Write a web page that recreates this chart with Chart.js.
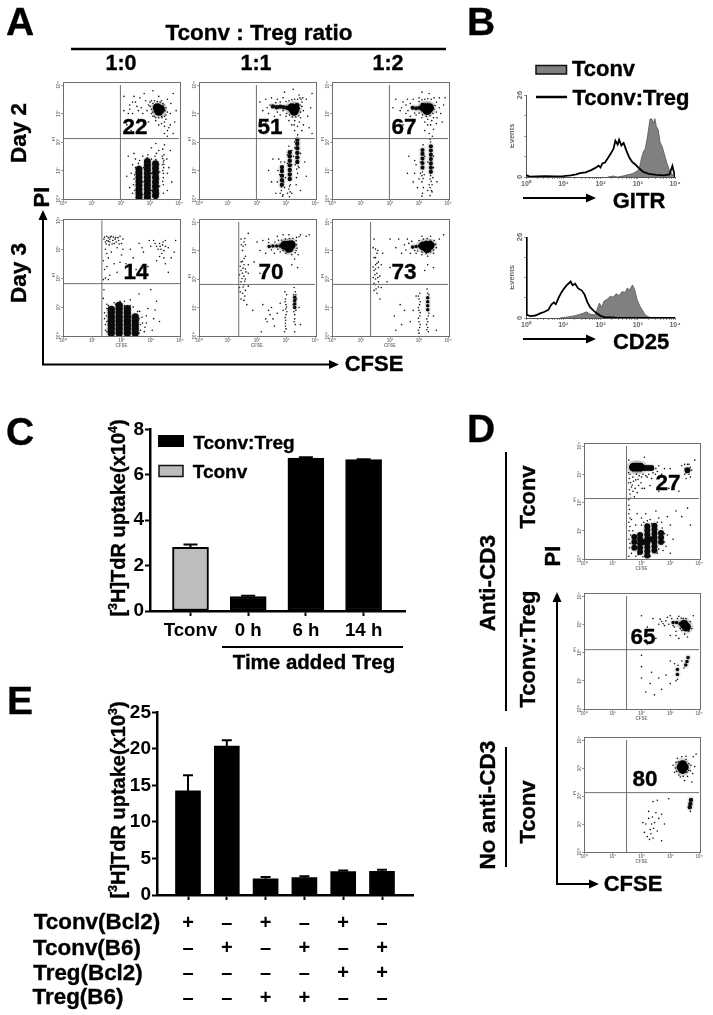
<!DOCTYPE html>
<html><head><meta charset="utf-8">
<script src="https://cdn.jsdelivr.net/npm/chart.js@4"></script>
<style>
html,body{margin:0;padding:0;background:#fff;}
#page{position:relative;width:713px;height:1015px;overflow:hidden;background:#fff;font-family:"Liberation Sans",Arial,sans-serif;font-weight:bold;color:#000;}
canvas{position:absolute;}
.t{position:absolute;white-space:nowrap;line-height:1;transform:translate(-50%,-50%);-webkit-text-stroke:.35px #000;}
.t sup{font-size:.62em;line-height:0;}
svg{position:absolute;left:0;top:0;}
</style></head><body><div id="page"></div>
<script>
// ---------- DATA (flow plots: log10 units, 0..4) ----------
const flowTicks=[0,1,2,3,4];
const flowTickLabels=['10⁰','10¹','10²','10³','10⁴'];

const a1Blob=[[3.25,3.2],[3.36,3.15],[3.3,3.08]];
const a1Core=[[2.62,.06],[2.62,.2],[2.62,.34],[2.62,.48],[2.62,.62],[2.62,.76],[2.62,.9],[2.62,1.04],
[2.91,.06],[2.91,.2],[2.91,.34],[2.91,.48],[2.91,.62],[2.91,.76],[2.91,.9],[2.91,1.04],[2.91,1.18],[2.91,1.32],
[3.19,.12],[3.19,.28],[3.19,.44],[3.19,.6],[3.19,.76],[3.19,.92],[3.19,1.08],[3.19,1.24]];
const a1Sparse=[[2.1,3.6],[2.3,3.3],[2.4,3],[2.5,3.4],[2.7,3.2],[2.6,2.8],[2.8,3.7],[2.9,3.1],[2.95,2.7],[3,3.4],[3.05,3],[3.1,3.35],[3.15,2.9],[3.4,2.9],[3.5,2.7],[3.55,3.2],[3.6,3.5],[3.7,3],[3.65,2.5],[3.8,3.7],[3.3,3.6],[3.1,3.8],[2.2,2.6],[2.35,2.4],[3.8,2.3],[3.5,2.3],[3.3,2.6],[3.6,2.2],[2.1,3.1],[3.45,3.35],[3.2,2.85],[3.4,3.45],[3.55,2.95],[3,3.25],[2.75,3],[2.85,3.45],[2.45,3.6],[2.65,3.55],[2.25,3.0],[3.72,3.35],[3.9,3.1],[3.85,2.7],
[2.95,3.3],[3.05,3.15],[3.1,3.05],[3.12,3.25],[3.05,3.45],[3.15,3.45],[3.25,3.42],[3.35,3.4],[3.48,3.3],[3.52,3.1],[3.5,2.9],[3.42,2.85],[3.3,2.85],[3.2,2.75],[3.1,2.9],[3.6,3.05],[3.55,2.8],[2.6,3.1],[2.55,3.25],[2.4,3.4],[2.3,3.15],[3.5,2.55],[3.4,2.65],[3.6,2.4],[3.7,2.6],
[2.3,.4],[2.35,.9],[2.4,.2],[2.4,1.2],[2.45,.7],[2.5,1.4],[2.45,1.6],[2.75,.15],[2.75,.6],[2.78,1.1],[2.75,1.5],[3.05,.3],[3.05,.9],[3.05,1.4],[3.05,1.8],[3.3,.2],[3.3,.7],[3.3,1.2],[3.3,1.7],[3.6,.3],[3.6,.9],[3.58,1.4],[3.7,1.7],[3.75,.6],[2.2,.8],[2.25,1.5],[3.5,1.9],[3.2,1.95],[3.46,.2],[3.46,.5],[3.46,.75],[3.48,1.55],[3.44,1.75],[2.48,.3],[2.52,.95],[2.55,.55],[3.65,1.1],
[3.44,1.0],[3.47,1.1],[3.43,1.2],[3.46,1.3],[3.44,1.42],[3.48,1.36],[3.42,1.5],[3.46,.9],[3.44,.62],[3.48,1.22],[2.9,1.45],[2.93,1.55],[3.2,1.38],[3.17,1.5],[3.22,1.6],[2.62,1.15],[2.6,1.25],[2.64,1.35],[2.43,.5],[2.47,.85],[2.5,1.1],[3.33,.45],[3.33,.95]];

const a2Blob=[[3.2,3.2],[3.32,3.18],[3.28,3.08]];
const a2Core=[[2.55,3.25],[2.68,3.22],[2.8,3.24],[2.92,3.22],[3.04,3.2],[3.38,3.3],
[2.86,.5],[2.86,.66],[2.86,.82],[2.86,.98],[2.86,1.12],[3.13,.7],[3.13,.86],[3.13,1.02],[3.13,1.18],[3.13,1.34],[3.13,1.5],[3.13,1.64],[3.39,1.3],[3.39,1.46],[3.39,1.62],[3.39,1.78],[3.39,1.94],[3.39,2.08]];
const a2Sparse=[[2.1,3.4],[2.2,3.1],[2.3,3.5],[2.4,3.0],[2.5,3.55],[2.6,2.9],[2.7,3.5],[2.8,2.95],[2.9,3.55],[3.0,2.9],[3.1,2.75],[3.2,2.6],[3.3,2.75],[3.4,2.55],[3.5,2.85],[3.55,3.4],[3.6,3.1],[3.7,3.5],[3.75,2.9],[3.85,3.2],[3.9,3.7],[3.45,3.65],[3.25,3.85],[2.95,3.75],[3.55,2.4],[3.4,2.25],[3.6,2.6],[3.3,2.4],[3.8,2.5],[3.9,2.3],[2.3,2.7],[2.15,2.4],[3.5,3.05],[3.48,3.3],[3.52,3.5],
[3.0,3.42],[3.1,3.45],[3.2,3.48],[3.3,3.5],[3.4,3.5],[3.48,3.55],[3.58,3.55],[2.9,3.1],[3.02,3.0],[3.12,2.95],[3.22,2.88],[3.34,2.88],[3.44,2.92],[3.55,3.25],[2.7,3.05],[2.45,3.3],[2.35,3.2],[2.65,3.38],[2.8,3.4],[3.46,2.7],[3.28,2.6],
[2.65,.2],[2.7,.6],[2.72,1],[2.75,1.4],[2.8,.2],[2.9,.15],[2.95,.4],[2.98,.75],[2.95,1.3],[2.82,1.3],[3.05,.2],[3.1,.35],[3.15,.5],[3.2,.2],[3.05,1.25],[3.2,1.2],[3.1,1.85],[3.25,1.5],[3.3,1.8],[3.45,1.1],[3.4,.9],[3.35,.5],[3.5,.3],[3.5,1.6],[3.32,1.2],[2.5,.6],[2.4,1.0],[2.55,1.4],[3.7,.8],[3.65,1.3],
[2.84,.3],[2.88,.1],[2.84,.42],[3.12,.45],[3.14,.25],[3.12,.08],[3.37,1.05],[3.42,1.15],[3.36,.75],[3.42,1.35],[2.78,.85],[2.92,.6],[3.05,1.55],[3.2,1.7],[3.3,2.0]];

const a3Blob=[[3.18,3.2],[3.28,3.2],[3.36,3.2],[3.28,3.1]];
const a3Core=[[2.78,3.2],[2.9,3.18],[3.02,3.2],[3.12,3.3],
[3.12,1.1],[3.12,1.26],[3.12,1.42],[3.12,1.58],[3.12,1.72],[3.41,.95],[3.41,1.1],[3.41,1.25],[3.41,1.4],[3.41,1.55],[3.41,1.7],[3.41,1.85]];
const a3Sparse=[[2.1,3.2],[2.2,3.5],[2.35,3.1],[2.45,3.4],[2.55,3.0],[2.6,3.5],[2.7,2.9],[2.8,3.5],[2.9,2.95],[3.0,3.55],[3.1,2.85],[3.2,2.7],[3.3,2.8],[3.4,2.6],[3.5,2.85],[3.6,3.05],[3.6,3.4],[3.7,3.55],[3.75,3.0],[3.85,3.3],[3.9,3.55],[3.35,3.7],[3.1,3.75],[3.5,2.45],[3.35,2.3],[3.6,2.65],[3.2,2.4],[3.8,2.7],[2.25,2.75],[2.45,2.6],[3.46,2.2],[3.38,2.1],
[3.0,3.42],[3.1,3.48],[3.2,3.5],[3.3,3.52],[3.42,3.5],[3.52,3.55],[3.52,3.15],[3.55,3.28],[3.48,3.0],[3.38,2.92],[3.25,2.9],[3.12,2.95],[3.0,3.02],[2.85,3.02],[2.7,3.35],[2.55,3.3],[2.62,3.1],[2.4,3.2],[3.7,3.2],[3.62,2.85],[3.44,2.75],[3.3,2.6],
[2.8,.6],[2.85,.9],[2.9,1.2],[2.85,1.35],[2.95,.4],[3.0,.7],[3.05,.9],[3.1,.6],[3.15,.4],[3.18,.85],[3.05,1.3],[3.2,1.5],[3.3,.3],[3.35,.5],[3.38,.7],[3.45,.5],[3.48,.75],[3.5,1.1],[3.5,1.5],[3.45,.25],[2.6,.9],[2.65,1.5],[3.3,1.3],[3.62,.6],
[3.12,.95],[3.1,.82],[3.14,.72],[3.4,.82],[3.42,.62],[3.38,.4],[3.43,.3],[3.4,2.0],[3.14,1.9],[3.38,.12],[3.12,.2],[3.1,.1]];

const b1Blob=[];
const b1Core=[[1.65,.1],[1.65,.24],[1.65,.38],[1.65,.52],[1.65,.66],[1.65,.8],[1.65,.92],[1.92,.1],[1.92,.24],[1.92,.38],[1.92,.52],[1.92,.66],[1.92,.8],[1.92,.94],[1.92,1.06],[2.2,.1],[2.2,.24],[2.2,.38],[2.2,.52],[2.2,.66],[2.2,.8],[2.2,.94],[2.47,.1],[2.47,.24],[2.47,.38],[2.47,.52],[2.47,.66]];
const b1Sparse=[[1.4,3.35],[1.5,3.3],[1.55,3.4],[1.6,3.25],[1.65,3.45],[1.7,3.3],[1.75,3.2],[1.8,3.4],[1.9,3.3],[1.95,3.45],[2.0,3.2],[1.6,3.35],[1.45,3.25],[1.85,3.05],[2.05,3.35],[1.45,3],[1.55,2.7],[1.5,2.4],[1.6,2.1],[1.45,2],[1.65,2.9],[1.75,2.5],[1.85,2.2],[2,2.8],[2.15,2.5],[2.3,3],[2.4,2.7],[2.5,2.3],[2.6,3.2],[2.75,2.9],[2.9,2.4],[3,3.1],[3.1,3.3],[3.2,3.1],[3.3,3.2],[3.35,3.0],[3.4,3.15],[3.45,2.95],[3.5,3.3],[3.6,3.05],[3.7,2.7],[3.5,2.5],[3.6,2.2],[3.2,2.6],[3.85,3.3],[3.8,2.9],[1.4,1.6],[1.38,1.3],[1.5,1.1],[1.42,.8],[1.45,.4],[1.5,.15],[2.6,.1],[2.65,.4],[2.7,.65],[2.62,.85],[2.8,.3],[2.85,.7],[2.9,.95],[3.05,.2],[3.1,.6],[3.15,.9],[3.2,1.2],[2.4,1],[2.3,1.25],[2.1,1.2],[1.75,1.15],[3.3,.5],[2.6,1.45],[3.0,1.6],
[1.42,3.42],[1.5,3.45],[1.58,3.15],[1.68,3.18],[1.78,3.35],[1.82,3.25],[1.48,3.18],[1.55,3.28],[1.62,3.42],[1.72,3.42],[1.92,3.18],[1.88,3.4],[1.38,2.6],[1.42,2.3],[1.5,2.85],[1.38,1.95],[1.55,1.95],[3.25,3.0],[3.32,3.1],[3.42,3.25],[3.5,3.1],[3.38,2.85],[3.3,2.75],[3.45,2.7],[3.15,3.2],[2.05,3.0],[1.95,2.55],[2.7,3.05],[2.95,3.3],
[1.42,.6],[1.45,.2],[1.48,.7],[1.5,.95],[1.5,.5],[1.55,1.05],[1.8,1.1],[1.95,1.2],[2.1,1.05],[2.3,1.05],[2.55,.85],[2.6,.6],[2.65,.2],[2.72,.45],[2.78,.15],[2.85,.45]];

const b2Blob=[[2.95,3.18],[3.08,3.18],[3.18,3.2],[3.1,3.08]];
const b2Core=[[2.42,3.14],[2.55,3.16],[2.68,3.16],[2.8,3.16],[3.3,1.0],[3.3,1.12],[3.3,1.24],[3.3,1.36]];
const b2Sparse=[[1.45,3.4],[1.55,3.3],[1.6,3.2],[1.5,3.0],[1.6,2.8],[1.45,2.6],[1.55,2.5],[1.6,2.35],[1.45,2.3],[1.7,2.2],[1.4,2.15],[1.6,2.0],[1.45,1.9],[1.55,1.8],[1.4,1.7],[1.6,1.6],[1.5,1.5],[1.45,1.3],[1.7,1.75],[1.7,2.5],[1.55,1.25],[1.65,1.1],[2,3.3],[2.1,3.0],[2.2,3.35],[2.3,2.9],[2.4,3.4],[2.6,2.9],[2.8,2.95],[3,2.9],[3.2,2.85],[3.35,3],[3.35,3.35],[3.3,2.7],[3.4,2.4],[3.2,2.5],[3.5,3.55],[3.7,3.5],[3.8,3.55],[3.1,3.55],[2.9,3.55],[2.7,3.5],[1.7,3.6],[1.9,2.6],[2.1,2.2],
[1.5,2.2],[1.55,2.1],[1.48,2.02],[1.58,1.92],[1.42,2.45],[1.52,2.38],[1.62,2.25],[1.52,1.72],[1.42,1.55],[1.58,1.4],[1.5,2.62],[1.56,2.72],[1.46,3.2],[1.52,3.15],[1.58,3.42],[2.4,3.28],[2.5,3.02],[2.62,3.3],[2.72,3.04],[2.74,3.36],[2.85,3.36],[2.98,3.4],[3.12,3.42],[3.24,3.42],[3.36,3.2],[3.38,3.08],[3.36,3.46],[3.45,3.48],[3.32,2.92],[3.2,2.98],[3.05,2.95],[2.9,3.0],[3.42,2.85],
[2.3,.6],[2.4,.9],[2.5,1],[2.55,.6],[2.35,.5],[2.7,.8],[2.6,.35],[2.8,1.15],[2.9,.9],[2.95,.15],[2.98,.35],[2.99,.55],[3,.75],[2.99,.95],[3,1.1],[2.98,1.3],[3.02,1.45],[2.96,1.55],[3.3,.75],[3.3,.6],[3.32,1.55],[3.28,1.7],[3.32,.4],[3.3,.15],[3.5,.4],[3.45,1.0],[2.2,1.1],[1.85,.9],[2.15,.15],
[3.27,.85],[3.34,.9],[3.25,1.1],[3.36,1.3],[3.26,1.45],[3.34,1.45],[3,.25],[2.97,.65],[3.03,.85],[2.97,1.2],[3.02,1.02],[2.98,.45],[3.28,.5],[2.45,.75]];

const b3Blob=[[3.14,3.16],[3.26,3.18],[3.38,3.18],[3.28,3.07]];
const b3Core=[[2.78,3.12],[2.9,3.14],[3.02,3.16],[3.48,3.2],[3.3,.92],[3.3,1.06],[3.3,1.2],[3.3,1.34]];
const b3Sparse=[[1.45,3.4],[1.5,3.05],[1.55,2.9],[1.45,2.75],[1.6,2.6],[1.5,2.5],[1.6,2.4],[1.45,2.3],[1.55,2.2],[1.65,2.1],[1.5,2.0],[1.6,1.9],[1.5,1.8],[1.45,1.6],[1.55,1.5],[1.7,1.7],[1.7,2.5],[1.65,1.3],[1.75,2.9],[2,3.4],[2.2,3.1],[2.3,3.4],[2.4,2.9],[2.5,3.2],[2.6,3.4],[2.7,2.9],[2.9,2.9],[3.1,2.85],[3.3,2.8],[3.5,2.9],[3.6,3.1],[3.7,3.4],[3.85,3.55],[3.4,3.5],[3.1,3.5],[3.3,2.5],[3.5,2.4],[3.2,2.3],[2.0,2.4],[1.9,1.9],
[1.5,2.35],[1.42,2.42],[1.58,2.05],[1.48,2.15],[1.55,2.55],[1.42,2.05],[1.6,1.72],[1.45,1.85],[1.52,1.65],[1.5,2.75],[1.58,3.0],[1.42,3.1],[2.55,3.02],[2.65,3.25],[2.75,3.32],[2.85,3.0],[3.0,3.35],[3.15,3.4],[3.28,3.42],[3.4,3.36],[3.52,3.35],[3.58,3.22],[3.5,3.02],[3.4,2.95],[3.25,2.9],[3.1,2.95],[2.95,2.98],
[2.7,.5],[2.5,.9],[2.35,1.1],[2.4,.4],[2.8,.9],[2.9,1.4],[3,.1],[3.02,.3],[3,.5],[3.03,.7],[3,.9],[3.02,1.1],[3,1.3],[3.03,1.5],[3.3,.3],[3.3,.5],[3.32,.7],[3.3,1.5],[3.28,1.65],[3.32,.15],[3.5,.7],[2.2,.2],[2.15,.7],[3.6,.2],
[2.98,.2],[3.04,.4],[2.98,.62],[3.04,.82],[2.98,1],[3.04,1.2],[2.98,1.4],[3.27,.6],[3.34,.8],[3.26,.4],[3.34,1.45],[3.27,.22]];

const d1Blob=[[1.72,3.25],[1.84,3.25],[1.96,3.25]];
const d1Core=[[2.1,3.22],[2.22,3.22],[2.34,3.22],[3.6,3.14],
[1.95,.25],[1.95,.4],[1.95,.55],[1.95,.7],[1.95,.85],[2.2,.12],[2.2,.27],[2.2,.42],[2.2,.57],[2.2,.72],[2.2,.87],[2.2,1.02],[2.2,1.16],[2.45,.3],[2.45,.45],[2.45,.6],[2.45,.75],[2.45,.9],[2.45,1.05],[2.45,1.18],[2.68,.6],[2.68,.76],[2.68,.92],[1.75,.4],[1.75,.6],[1.75,.78],[2.08,.6],[2.32,.7]];
const d1Sparse=[[1.56,3.5],[1.6,3],[1.7,2.9],[1.55,2.7],[1.65,2.55],[1.8,2.8],[1.9,2.6],[1.6,2.3],[1.75,2.2],[2,2.9],[2.1,2.5],[2.2,2.9],[2.3,2.6],[2.4,3.05],[2.5,3.2],[2.6,3.3],[2.7,3],[2.8,3.2],[3,3.2],[2.95,2.5],[2.6,2.4],[3.4,3.3],[3.5,3],[3.5,3.35],[3.65,3.35],[3.7,2.9],[3.55,2.85],[3.75,3.15],[3.2,2.9],[3.3,2.4],[3.85,3.5],[2.1,3.6],[1.56,2.1],[1.56,1.9],[1.56,1.6],[1.56,1.3],[1.57,1],[1.56,.7],[1.58,.4],[1.56,.1],[1.65,1.4],[1.7,1],[1.65,.2],[1.8,1.2],[1.85,1.6],[2,1.45],[2.15,1.6],[2.3,1.4],[2.5,1.7],[2.6,1.45],[2.7,1.3],[2.8,.6],[2.9,.85],[3,1.2],[2.9,1.5],[3.2,1.7],[3.1,.7],[3.4,1.5],[3.6,1.8],[3.7,1.2],[2.05,.08],[2.3,.1],[2.55,.2],[2.75,.3],[1.8,.1],[3,.2],
[1.55,3.05],[1.58,2.85],[1.62,2.7],[1.68,2.62],[1.72,2.75],[1.78,2.5],[1.82,3.0],[1.88,2.82],[1.92,2.95],[1.98,2.7],[2.02,2.5],[1.7,2.4],[1.62,2.15],[1.85,2.35],[1.58,2.45],[2.05,3.0],[2.15,2.95],[2.25,3.0],[2.35,2.85],[2.48,3.0],[2.55,3.1],[3.52,3.2],[3.6,3.35],[3.65,3.0],[3.7,3.25],[3.55,3.05],[1.58,1.75],[1.6,1.45],[1.6,1.15],[1.62,.85],[1.6,.55],[2.0,1.2],[2.08,1.3],[2.2,1.35],[2.35,1.25],[2.55,1.3],[2.72,1.1],[2.8,.9],[2.85,.45],[2.6,.35],[1.88,.15],[2.12,.1]];

const d2Blob=[[3.48,3],[3.56,2.9]];
const d2Core=[[3.1,3.06],[3.22,3.06],[3.34,3.02],[3.58,1.68],[3.62,1.82],[3.54,1.56],[3.25,1.4],[3.25,1.22]];
const d2Sparse=[[2.6,3],[2.7,3.1],[2.75,3.02],[2.85,3.12],[2.95,3],[3.05,3.2],[3.15,2.9],[3.25,3.2],[3.35,2.85],[3.2,2.75],[3.45,3.2],[3.7,3.1],[3.75,2.85],[3.8,3.3],[2.4,3.2],[2.2,2.9],[2.0,3.3],[3.6,2.55],[3.3,2.5],[3,2.6],[2.5,2.5],[2,1.9],[2,1.5],[2,1.1],[2.35,1.3],[2.3,.9],[2.6,1.1],[2.7,.7],[2.85,1.2],[3,.9],[3.2,1.0],[3.25,1.05],[3.27,1.55],[3.48,1.45],[3.4,1.7],[3.15,1.6],[2.45,.5],[2.15,.6],[3,1.7],[2.2,2.3],
[2.65,3.18],[2.8,2.95],[2.9,3.25],[3,3.3],[3.1,2.95],[3.3,3.28],[3.4,2.78],[3.55,3.2],[3.65,2.75],[3.68,2.95],[3.5,2.65],[3.38,3.22],[3.2,2.6]];

const d3Blob=[[3.38,3.03],[3.48,3.03],[3.43,2.95],[3.43,3.12]];
const d3Core=[[3.7,1.72],[3.72,1.86],[3.68,1.6]];
const d3Sparse=[[3.1,3.1],[3.15,2.85],[3.2,3.2],[3.25,3.35],[3.4,3.4],[3.55,3.3],[3.65,3.15],[3.7,2.9],[3.6,2.7],[3.45,2.7],[3.3,2.75],[3.8,3.4],[3.85,3.05],[3.9,3.5],[3.5,2.55],[3.75,2.5],[3.7,1.45],[2.1,.7],[2.15,1],[2.2,.55],[2.25,1.2],[2.3,.8],[2.33,.65],[2.35,1],[2.38,1.25],[2.4,.5],[2.42,.85],[2.28,.45],[2.45,1.05],[2.5,1.4],[2.55,.75],[2.6,1.2],[2.7,1.35],[2.8,1],[2.05,1.05],[2.4,1.8],[2.55,1.85],[2.95,1.9],[2.7,.4],[2.25,1.45],
[3.18,3.0],[3.22,2.88],[3.28,3.22],[3.6,3.1],[3.64,2.92],[3.58,2.85],[3.35,2.68],[3.55,3.42],[3.72,3.1],[3.78,2.8]];

// gates, log10 units
const gatesA1=[1.98,2.12], gatesA2=[1.98,2.12], gatesA3=[1.98,2.12];
const gatesB1=[1.33,1.81], gatesB2=[1.37,1.81], gatesB3=[1.33,1.81];
const gatesD1=[1.48,2.14], gatesD2=[1.48,2.10], gatesD3=[1.48,2.12];

// Histograms (log10 intensity, events)
const gitrTconv=[[2.2,0],[2.35,.3],[2.45,0],[2.6,.3],[2.75,.8],[2.85,1],[3,2],[3.05,3.2],[3.1,6],[3.15,8],[3.2,9],[3.25,12],[3.3,16],[3.33,18.4],[3.38,18.4],[3.42,17],[3.46,18.5],[3.5,16],[3.55,15],[3.6,11],[3.66,9.5],[3.72,7],[3.78,4.5],[3.85,2.2],[3.92,.9],[3.98,.3],[4,0]];
const gitrMix=[[0,.6],[.1,.1],[.3,.2],[.5,.3],[.8,.2],[1,.3],[1.2,.5],[1.35,.8],[1.45,1.2],[1.6,1.5],[1.75,2.2],[1.85,2.8],[1.95,3.6],[2,3],[2.05,4.3],[2.12,4.6],[2.2,6],[2.28,7.5],[2.35,9],[2.4,11.5],[2.46,10.3],[2.5,11.8],[2.56,10],[2.62,10.8],[2.7,8.2],[2.78,6],[2.85,4.8],[2.95,3.8],[3.05,2.6],[3.15,1.6],[3.3,1],[3.5,.7],[3.7,.5],[3.85,.8],[3.93,3.5],[3.97,1.5],[4,0]];
const cd25Tconv=[[.9,0],[1.05,.2],[1.3,.7],[1.45,1.2],[1.55,1.6],[1.62,2],[1.72,1.2],[1.85,1],[1.9,2.5],[1.97,4.8],[2.03,3.5],[2.1,5.5],[2.18,6],[2.26,7],[2.34,6.7],[2.42,7.8],[2.5,7.2],[2.58,8.5],[2.66,8.2],[2.72,9.6],[2.78,9],[2.86,10.6],[2.92,9],[2.98,6],[3.05,4],[3.12,2.6],[3.2,1],[3.3,.3],[3.4,0]];
const cd25Mix=[[0,26],[.02,1],[.12,.6],[.25,.8],[.38,1.5],[.5,2],[.6,2.6],[.68,4.3],[.75,5],[.8,4.4],[.88,6.6],[.95,8.2],[1.03,9.6],[1.1,10.6],[1.2,11.7],[1.25,10.5],[1.32,11],[1.4,9.5],[1.5,8.8],[1.57,7.6],[1.65,5],[1.72,3.5],[1.82,2.3],[1.9,1.5],[2,.7],[2.1,.3],[2.4,.1],[3,.05],[4,0]];
const histXTicks=[0,1,2,3,4];
const histXLabels=['10⁰','10¹','10²','10³','10⁴'];
const histYTicks=[0,6.5,13,19.5,26];

// Panel C
const cCats=['Tconv','0 h','6 h','14 h'];
const cPos=[0,1,2,3];
const cVals=[2.81,.64,6.74,6.67];
const cErr=[.12,.03,.03,.02];
const cColors=['#bdbdbd','#000','#000','#000'];
const cYTicks=[0,2,4,6,8];

// Panel E
const ePos=[0,1,2,3,4,5];
const eVals=[14.25,20.4,2.23,2.37,3.19,3.23];
const eErr=[2.15,.8,.23,.18,.18,.23];
const eYTicks=[0,5,10,15,20,25];
const eRows=[['+','–','+','–','+','–'],['–','+','–','+','–','+'],['–','–','–','–','+','+'],['–','–','+','+','–','–']];
const eRowNames=['Tconv(Bcl2)','Tconv(B6)','Treg(Bcl2)','Treg(B6)'];

// ---------- HELPERS ----------
const page=document.getElementById('page');
const FONT='"Liberation Sans",Arial,sans-serif';
Chart.defaults.font.family=FONT;
Chart.defaults.animation=false;
function T(html,cx,cy,size,rot){
  const d=document.createElement('div');d.className='t';d.innerHTML=html;
  d.style.left=cx+'px';d.style.top=cy+'px';d.style.fontSize=size+'px';
  if(rot)d.style.transform='translate(-50%,-50%) rotate(-90deg)';
  page.appendChild(d);return d;
}
function mkCanvas(l,t,w,h){
  const c=document.createElement('canvas');c.width=w;c.height=h;
  c.style.left=l+'px';c.style.top=t+'px';c.style.width=w+'px';c.style.height=h+'px';
  page.appendChild(c);return c;
}
function rotLabels(col,size,xOff,getText,title,titleOff,bottomTitle){
  return {id:'rotLabels',afterDraw(c){
    const g=c.ctx,y=c.scales.y,a=c.chartArea;
    g.save();g.fillStyle=col;g.font='bold '+size+'px '+FONT;g.textAlign='center';g.textBaseline='middle';
    y.ticks.forEach(tk=>{const s=getText(tk.value);if(!s)return;
      g.save();g.translate(a.left-xOff,y.getPixelForValue(tk.value));g.rotate(-Math.PI/2);g.fillText(s,0,0);g.restore();});
    if(title){g.save();g.translate(a.left-titleOff,(a.top+a.bottom)/2+(title==='PI'?-3:0));g.rotate(-Math.PI/2);g.fillText(title,0,0);g.restore();}
    if(bottomTitle){g.fillText(bottomTitle,(a.left+a.right)/2,a.bottom+10);}
    g.restore();
  }};
}
function flow(l,t,r,b,blob,core,sparse,gates,coreR,cfse){
  const ml=11,mr=6,mt=4,mb=14;
  const cv=mkCanvas(l-ml,t-mt,r-l+ml+mr,b-t+mt+mb);
  const gc='#6e6e6e';
  const pts=a=>a.map(p=>({x:p[0],y:p[1]}));
  new Chart(cv,{type:'scatter',
    plugins:[rotLabels('#777',4.5,4,v=>flowTickLabels[flowTicks.indexOf(v)],'PI',9,cfse?'CFSE':null)],
    data:{datasets:[
      {data:[{x:gates[0],y:0},{x:gates[0],y:4}],showLine:true,borderColor:gc,borderWidth:1,pointRadius:0},
      {data:[{x:0,y:gates[1]},{x:4,y:gates[1]}],showLine:true,borderColor:gc,borderWidth:1,pointRadius:0},
      {data:pts(sparse),pointRadius:.8,pointBackgroundColor:'#111',pointBorderWidth:0},
      {data:pts(blob),pointRadius:4.5,pointBackgroundColor:'#000',pointBorderWidth:0},
      {data:pts(core),pointRadius:coreR,pointBackgroundColor:'#0a0a0a',pointBorderWidth:0},
      {data:pts(blob),pointRadius:7,pointBackgroundColor:'rgba(0,0,0,.14)',pointBorderWidth:0},
      {data:pts(core),pointRadius:coreR+1.6,pointBackgroundColor:'rgba(0,0,0,.08)',pointBorderWidth:0}
    ]},
    options:{responsive:false,layout:{padding:{top:mt,right:mr,left:0,bottom:0}},
      plugins:{legend:{display:false},tooltip:{enabled:false}},
      scales:{
        x:{type:'linear',min:0,max:4,afterFit(s){s.height=mb;},afterBuildTicks(s){s.ticks=flowTicks.map(v=>({value:v}));},
          border:{color:gc,width:1},grid:{drawOnChartArea:false,tickLength:2,tickColor:gc,tickWidth:.7},
          ticks:{padding:0,maxRotation:0,autoSkip:false,color:'#777',font:{size:4.5,weight:'bold'},callback:v=>flowTickLabels[flowTicks.indexOf(v)]}},
        y:{type:'linear',min:0,max:4,afterFit(s){s.width=ml;},afterBuildTicks(s){s.ticks=flowTicks.map(v=>({value:v}));},
          border:{color:gc,width:1},grid:{drawOnChartArea:false,tickLength:2,tickColor:gc,tickWidth:.7},
          ticks:{display:false}}
      }}});
  const f=document.createElement('div');
  f.style.cssText='position:absolute;box-sizing:border-box;border:1px solid '+gc+';left:'+l+'px;top:'+t+'px;width:'+(r-l+1)+'px;height:'+(b-t+1)+'px;';
  page.appendChild(f);
}
function hist(l,t,r,b,fillS,lineS){
  const ml=16,mr=8,mt=4,mb=13,gc='#555';
  const cv=mkCanvas(l-ml,t-mt,r-l+ml+mr,b-t+mt+mb);
  new Chart(cv,{type:'scatter',
    plugins:[rotLabels('#666',7.5,6,v=>(v===0||v===26)?String(v):'','Events',14)],
    data:{datasets:[
      {data:lineS.map(p=>({x:p[0],y:p[1]})),showLine:true,borderColor:'#000',borderWidth:1.8,pointRadius:0,fill:false},
      {data:fillS.map(p=>({x:p[0],y:p[1]})),showLine:true,borderColor:'#555',borderWidth:.8,backgroundColor:'#808080',pointRadius:0,fill:'origin'}
    ]},
    options:{responsive:false,layout:{padding:{top:mt,right:mr,left:0,bottom:0}},
      plugins:{legend:{display:false},tooltip:{enabled:false},filler:{propagate:false}},
      scales:{
        x:{type:'linear',min:0,max:4,afterFit(s){s.height=mb;},
          afterBuildTicks(s){const m=[];[0,1,2,3].forEach(d=>{for(let k=1;k<10;k++)m.push(d+Math.log10(k));});m.push(4);s.ticks=m.map(v=>({value:v}));},
          border:{color:gc,width:1},grid:{drawOnChartArea:false,tickLength:2,tickColor:gc,tickWidth:.6},
          ticks:{padding:1,maxRotation:0,autoSkip:false,color:'#666',font:{size:7,weight:'bold'},callback:v=>{const i=histXTicks.indexOf(v);return i<0?'':histXLabels[i];}}},
        y:{type:'linear',min:0,max:26,afterFit(s){s.width=ml;},afterBuildTicks(s){s.ticks=histYTicks.map(v=>({value:v}));},
          border:{color:gc,width:1},grid:{drawOnChartArea:false,tickLength:2,tickColor:gc,tickWidth:.6},ticks:{display:false}}
      }}});
}
function errBars(errs,cap){return {id:'errBars',afterDatasetsDraw(c){
  const g=c.ctx,ds=c.data.datasets[0],sx=c.scales.x,sy=c.scales.y;
  g.save();g.strokeStyle='#000';g.lineWidth=2;
  ds.data.forEach((p,i)=>{const x=sx.getPixelForValue(p.x),y0=sy.getPixelForValue(p.y),y1=sy.getPixelForValue(p.y+errs[i]);
    g.beginPath();g.moveTo(x,y0);g.lineTo(x,y1);g.moveTo(x-cap,y1);g.lineTo(x+cap,y1);g.stroke();});
  g.restore();}};}
function bars(opt){
  const {ml,mr,mt,mb,l,t,r,b,c0,dx}=opt;
  const cv=mkCanvas(l-ml,t-mt,r-l+ml+mr,b-t+mt+mb);
  new Chart(cv,{type:'bar',plugins:[errBars(opt.err,opt.cap)],
    data:{datasets:[{data:opt.pos.map((x,i)=>({x:x,y:opt.vals[i]})),backgroundColor:opt.colors,borderColor:'#000',borderWidth:opt.bw,barThickness:opt.thick,borderSkipped:false}]},
    options:{responsive:false,layout:{padding:{top:mt,right:mr,left:0,bottom:0}},
      plugins:{legend:{display:false},tooltip:{enabled:false}},
      scales:{
        x:{type:'linear',offset:false,min:(l-c0)/dx,max:(r-c0)/dx,afterFit(s){s.height=mb;},afterBuildTicks(s){s.ticks=opt.pos.map(v=>({value:v}));},
          border:{color:'#000',width:2.5},grid:{offset:false,drawOnChartArea:false,tickLength:5,tickColor:'#000',tickWidth:2},
          ticks:{padding:opt.xPad,maxRotation:0,autoSkip:false,color:'#000',font:{size:opt.xFont,weight:'bold',lineHeight:opt.xLH},callback:opt.xLabel}},
        y:{type:'linear',min:0,max:opt.yMax,afterFit(s){s.width=ml;},afterBuildTicks(s){s.ticks=opt.yTicks.map(v=>({value:v}));},
          border:{color:'#000',width:2.5},grid:{drawOnChartArea:false,tickLength:5,tickColor:'#000',tickWidth:2},
          ticks:{padding:1,color:'#000',font:{size:opt.yFont,weight:'bold'}}}
      }}});
}

// ---------- PANEL A ----------
flow(63,82,180,199,a1Blob,a1Core,a1Sparse,gatesA1,3.5,false);
flow(199,82,316,199,a2Blob,a2Core,a2Sparse,gatesA2,2.2,false);
flow(332,82,449,199,a3Blob,a3Core,a3Sparse,gatesA3,2.1,false);
flow(63,219,180,336,b1Blob,b1Core,b1Sparse,gatesB1,3.7,true);
flow(199,219,316,336,b2Blob,b2Core,b2Sparse,gatesB2,1.8,true);
flow(332,219,449,336,b3Blob,b3Core,b3Sparse,gatesB3,1.8,true);
// ---------- PANEL D ----------
flow(584,443,700,559,d1Blob,d1Core,d1Sparse,gatesD1,3,true);
flow(584,593,700,709,d2Blob,d2Core,d2Sparse,gatesD2,1.8,true);
flow(584,737,700,852,d3Blob,d3Core,d3Sparse,gatesD3,2.2,true);
// ---------- PANEL B ----------
hist(526,95,675,177,gitrTconv,gitrMix);
hist(526,237,675,318,cd25Tconv,cd25Mix);
// ---------- PANEL C ----------
bars({l:150,t:429,r:405,b:611,ml:30,mr:6,mt:12,mb:30,c0:190.5,dx:57.7,pos:cPos,vals:cVals,err:cErr,cap:7,colors:cColors,bw:2,thick:36,
  yMax:8,yTicks:cYTicks,yFont:19,xFont:18.7,xLH:1.2,xPad:4,xLabel:(v)=>cCats[cPos.indexOf(v)]});
// ---------- PANEL E ----------
bars({l:157,t:712,r:413,b:895,ml:34,mr:6,mt:12,mb:116,c0:188,dx:38.8,pos:ePos,vals:eVals,err:eErr,cap:5,colors:'#000',bw:0,thick:25,
  yMax:25,yTicks:eYTicks,yFont:19,xFont:20,xLH:1.25,xPad:11,xLabel:(v)=>eRows.map(row=>row[ePos.indexOf(v)])});

// ---------- LINES & ARROWS ----------
const svgNS='http://www.w3.org/2000/svg';
const svg=document.createElementNS(svgNS,'svg');svg.setAttribute('width',713);svg.setAttribute('height',1015);page.appendChild(svg);
function L(x1,y1,x2,y2,w){const e=document.createElementNS(svgNS,'line');
  [['x1',x1],['y1',y1],['x2',x2],['y2',y2],['stroke','#000'],['stroke-width',w||2.5]].forEach(a=>e.setAttribute(a[0],a[1]));svg.appendChild(e);}
function H(p){const e=document.createElementNS(svgNS,'polygon');e.setAttribute('points',p);svg.appendChild(e);}
function R(x,y,w,h,fill,sw){const e=document.createElementNS(svgNS,'rect');
  [['x',x],['y',y],['width',w],['height',h],['fill',fill],['stroke','#111'],['stroke-width',sw]].forEach(a=>e.setAttribute(a[0],a[1]));svg.appendChild(e);}
L(71,49,446,49,2.5);
L(43,365,43,218,2);L(42,364.5,332,364.5,2);H('43,210 38.5,220 47.5,220');H('339,364.5 329,360 329,369');
L(523,198,590,198,2);H('596,198 586,193.5 586,202.5');
L(523,339,590,339,2);H('596,339 586,334.5 586,343.5');
L(222,647,403,647,2.2);
L(506,452,506,711,2);L(506,747,506,867,2);
L(557,884,557,600,2);L(556,884,592,884,2);H('557,592 552.5,602 561.5,602');H('599,884 589,879.5 589,888.5');
R(536,65.5,30.5,8.5,'#808080',1.5);L(536,97,567,97,2.5);
R(158,435,26,12,'#000',0);R(159,465.5,24,11,'#bdbdbd',1.5);

// ---------- TEXT ----------
[['A',20,21],['B',481,21],['C',20,431],['D',481,428],['E',20,700]].forEach(a=>T(a[0],a[1],a[2],39));
T('Tconv : Treg ratio',259,33,22.5);
T('1:0',121,64,21.5);T('1:1',256,64,21.5);T('1:2',388,64,21.5);
T('Day 2',19,133,22.5,true);T('Day 3',19,273,22.5,true);T('PI',42,197,22,true);T('CFSE',374,364,22);
[['22',135,127],['51',270,127],['67',404,127],['14',136,272],['70',271,272],['73',404,272],['27',668,483],['65',643,637],['80',645,779]].forEach(a=>T(a[0],a[1],a[2],22.5));
T('Tconv',603.5,69,22);T('Tconv:Treg',631,98,22);T('GITR',639,201,22);T('CD25',641,342,22);
T('Tconv:Treg',244,443,19.1);T('Tconv',220,471,19);T('Time added Treg',314,662,20.5);
T('[<sup>3</sup>H]TdR uptake(x10<sup>4</sup>)',118,518,20,true);
T('[<sup>3</sup>H]TdR uptake(x10<sup>3</sup>)',118,800,20,true);
[[97,922],[87,948],[88,973],[78,997]].forEach((a,i)=>T(eRowNames[i],a[0],a[1],22.4));
T('Anti-CD3',488,583,22.5,true);T('No anti-CD3',488,805,22.5,true);
T('Tconv',528,497,22,true);T('Tconv:Treg',528,649,22,true);T('Tconv',528,812,22,true);
T('PI',553,556,22,true);T('CFSE',633,884,22);
</script></body></html>
